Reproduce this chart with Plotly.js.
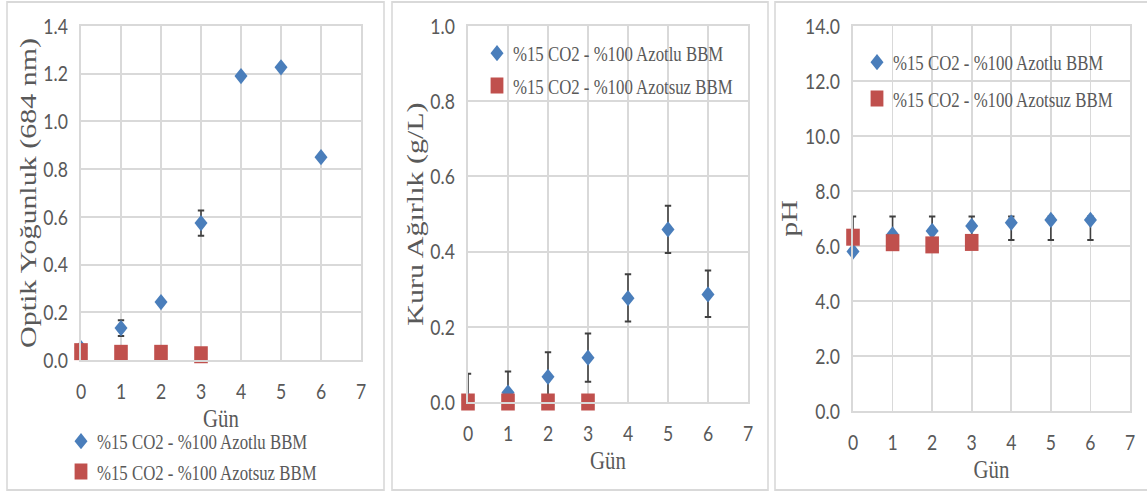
<!DOCTYPE html>
<html>
<head>
<meta charset="utf-8">
<script src="https://cdn.plot.ly/plotly-3.0.1.min.js"></script>
<style>
  html, body { margin: 0; padding: 0; background: #ffffff; overflow: hidden; }
  #chart { width: 1434px; height: 492px; transform: scaleX(0.79986); transform-origin: 0 0; }
</style>
</head>
<body>
<div id="chart"></div>
<script>
// ---- data ----
const days = [0, 1, 2, 3, 4, 5, 6];
const daysNoN = [0, 1, 2, 3];
const seriesN = "%15 CO2 - %100 Azotlu BBM";
const seriesNoN = "%15 CO2 - %100 Azotsuz BBM";

// Panel 1: Optik Yoğunluk (684 nm)
const odN = [0.05, 0.134, 0.243, 0.574, 1.19, 1.227, 0.85];
const odNErr = [0.0, 0.033, 0.0, 0.053, 0.0, 0.0, 0.0];
const odNoN = [0.035, 0.028, 0.028, 0.022];

// Panel 2: Kuru Ağırlık (g/L)
const dwN = [0.005, 0.025, 0.067, 0.118, 0.276, 0.459, 0.286];
const dwNErrPlus = [0.07, 0.056, 0.065, 0.064, 0.064, 0.063, 0.064];
const dwNErrMinus = [0.005, 0.025, 0.065, 0.064, 0.062, 0.063, 0.06];
const dwNoN = [0.0, 0.0, 0.0, 0.0];

// Panel 3: pH
const phN = [5.8, 6.42, 6.55, 6.73, 6.85, 6.95, 6.95];
const phNErrPlus = [1.27, 0.65, 0.52, 0.34, 0.22, 0.12, 0.12];
const phNErrMinus = [0.0, 0.2, 0.33, 0.51, 0.63, 0.73, 0.73];
const phNoN = [6.32, 6.12, 6.04, 6.13];

const xTicks = [0, 1, 2, 3, 4, 5, 6, 7];

// ---- styling ----
const BLUE = "#4A7EBB";
const RED = "#C0504D";
const GRID = "#D9D9D9";
const TXT = "#595959";
const W = 1147, H = 492;
const px = v => v / W;
const py = v => 1 - v / H;

const tickFont = { family: "Lato, 'Liberation Sans', sans-serif", size: 22, color: TXT };
const serif = "'Liberation Serif', 'Times New Roman', serif";

function xAxis(l, r) {
  return {
    domain: [px(l), px(r)], range: [0, 7], tickvals: xTicks, ticktext: xTicks.map(String),
    showgrid: true, gridcolor: GRID, gridwidth: 2, zeroline: false,
    showline: true, linecolor: GRID, linewidth: 2, mirror: true,
    ticks: "", tickfont: tickFont, ticklabelstandoff: 11, automargin: false,
    fixedrange: true,
    title: { text: "Gün", font: { family: serif, size: 26, color: TXT }, standoff: 3 }
  };
}
function yAxis(top, bottom, max, step, title, tsize) {
  const vals = [];
  for (let v = 0; v <= max + 1e-9; v += step) vals.push(+v.toFixed(4));
  return {
    domain: [py(bottom), py(top)], range: [0, max], tickvals: vals,
    ticktext: vals.map(v => v.toFixed(1)),
    showgrid: true, gridcolor: GRID, gridwidth: 2, zeroline: false,
    showline: true, linecolor: GRID, linewidth: 2, mirror: true,
    ticks: "", tickfont: tickFont, ticklabelstandoff: 10, automargin: false,
    fixedrange: true,
    title: { text: title, font: { family: serif, size: tsize, color: TXT }, standoff: 0 }
  };
}

const errStyle = { color: "#404040", thickness: 2, width: 4 };
const diamond = { symbol: "diamond", size: 12.5, color: BLUE, line: { width: 0 } };
const square = { symbol: "square", size: 17, color: RED, line: { width: 0 } };

const traces = [
  // Panel 1
  { x: days, y: odN, type: "scatter", mode: "markers", name: seriesN, marker: diamond,
    error_y: Object.assign({ type: "data", array: odNErr, visible: true }, errStyle),
    xaxis: "x", yaxis: "y", legend: "legend", legendgroup: "a1", cliponaxis: false },
  { x: daysNoN, y: odNoN, type: "scatter", mode: "markers", name: seriesNoN, marker: square,
    xaxis: "x", yaxis: "y", legend: "legend", legendgroup: "b1", cliponaxis: false },
  // Panel 2
  { x: days, y: dwN, type: "scatter", mode: "markers", name: seriesN, marker: diamond,
    error_y: Object.assign({ type: "data", symmetric: false, array: dwNErrPlus, arrayminus: dwNErrMinus, visible: true }, errStyle),
    xaxis: "x2", yaxis: "y2", legend: "legend2", legendgroup: "a2", cliponaxis: false },
  { x: daysNoN, y: dwNoN, type: "scatter", mode: "markers", name: seriesNoN, marker: square,
    xaxis: "x2", yaxis: "y2", legend: "legend2", legendgroup: "b2", cliponaxis: false },
  // Panel 3
  { x: days, y: phN, type: "scatter", mode: "markers", name: seriesN, marker: diamond,
    error_y: Object.assign({ type: "data", symmetric: false, array: phNErrPlus, arrayminus: phNErrMinus, visible: true }, errStyle),
    xaxis: "x3", yaxis: "y3", legend: "legend3", legendgroup: "a3", cliponaxis: false },
  { x: daysNoN, y: phNoN, type: "scatter", mode: "markers", name: seriesNoN, marker: square,
    xaxis: "x3", yaxis: "y3", legend: "legend3", legendgroup: "b3", cliponaxis: false }
];

const legendFont = { family: serif, size: 21, color: TXT };
function legendAt(x, y, gap) {
  return { x: px(x), y: py(y), xanchor: "left", yanchor: "top", bgcolor: "rgba(0,0,0,0)",
           borderwidth: 0, font: legendFont, itemclick: false, itemdoubleclick: false,
           traceorder: "grouped", tracegroupgap: gap };
}

function border(l, r, t, b) {
  return { type: "rect", xref: "paper", yref: "paper", x0: px(l), x1: px(r), y0: py(b), y1: py(t),
           line: { color: GRID, width: 2 }, fillcolor: "rgba(0,0,0,0)", layer: "below" };
}

const layout = {
  width: 1434, height: 492,
  margin: { l: 0, r: 0, t: 0, b: 0, pad: 0, autoexpand: false },
  paper_bgcolor: "#ffffff", plot_bgcolor: "#ffffff",
  showlegend: true,
  xaxis: Object.assign(xAxis(81, 361), { anchor: "y" }),
  yaxis: Object.assign(yAxis(26, 360, 1.4, 0.2, "Optik Yoğunluk (684 nm)", 30), { anchor: "x" }),
  xaxis2: Object.assign(xAxis(468, 748), { anchor: "y2" }),
  yaxis2: Object.assign(yAxis(26, 402, 1.0, 0.2, "Kuru Ağırlık (g/L)", 30), { anchor: "x2" }),
  xaxis3: Object.assign(xAxis(853, 1130), { anchor: "y3" }),
  yaxis3: Object.assign(yAxis(26, 411, 14, 2, "pH", 30), { anchor: "x3" }),
  legend: legendAt(65, 421, 0),
  legend2: legendAt(481, 33, 2),
  legend3: legendAt(861, 42, 6),
  shapes: [border(7, 384, 2, 490), border(392, 768, 2, 490), border(775, 1150, 2, 490)]
};

Plotly.newPlot("chart", traces, layout, { displayModeBar: false, staticPlot: true });
</script>
</body>
</html>
